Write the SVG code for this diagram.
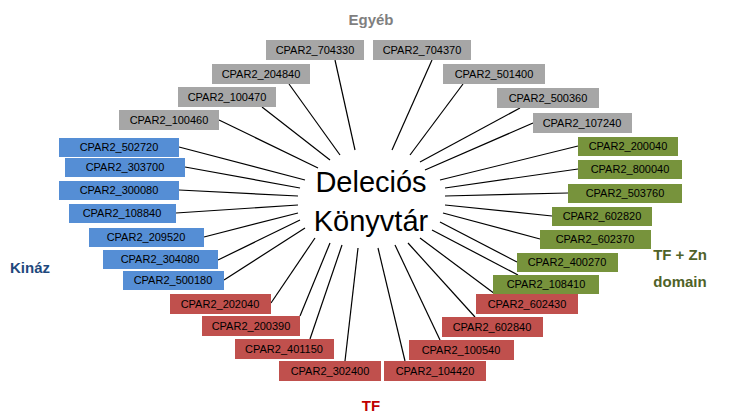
<svg xmlns="http://www.w3.org/2000/svg" width="737" height="420" viewBox="0 0 737 420">
<style>
.b text{font-family:"Liberation Sans",Arial,sans-serif;font-size:11px;fill:#000;text-anchor:middle}
.g rect{fill:#a6a6a6}.bl rect{fill:#558ed5}.gr rect{fill:#77933c}.r rect{fill:#c0504d}
.c line{stroke:#000;stroke-width:1.2}
.t{font-family:"Liberation Sans",Arial,sans-serif;font-weight:bold;font-size:15px;text-anchor:middle}
</style>
<rect width="737" height="420" fill="#fff"/>
<g class="c">
<line x1="335" y1="60" x2="355" y2="150"/><line x1="432" y1="60" x2="392" y2="150"/>
<line x1="289" y1="84" x2="340" y2="155"/><line x1="463" y1="84" x2="410" y2="155"/>
<line x1="262" y1="107" x2="330" y2="160"/><line x1="520" y1="108" x2="420" y2="162"/>
<line x1="219" y1="120" x2="318" y2="168"/><line x1="533" y1="123" x2="425" y2="170"/>
<line x1="179" y1="147" x2="305" y2="180"/><line x1="185" y1="167" x2="300" y2="188"/>
<line x1="179" y1="190" x2="298" y2="196"/><line x1="176" y1="213" x2="298" y2="205"/>
<line x1="204" y1="237" x2="298" y2="213"/><line x1="218" y1="260" x2="300" y2="220"/>
<line x1="224" y1="280" x2="305" y2="228"/>
<line x1="578" y1="146" x2="440" y2="180"/><line x1="578" y1="169" x2="445" y2="188"/>
<line x1="568" y1="193" x2="445" y2="196"/><line x1="552" y1="216" x2="445" y2="205"/>
<line x1="540" y1="239" x2="443" y2="213"/><line x1="517" y1="262" x2="440" y2="222"/>
<line x1="518" y1="275" x2="432" y2="230"/>
<line x1="271" y1="303" x2="315" y2="238"/><line x1="300" y1="316" x2="330" y2="243"/>
<line x1="310" y1="339" x2="342" y2="245"/><line x1="345" y1="361" x2="358" y2="248"/>
<line x1="405" y1="361" x2="378" y2="248"/><line x1="440" y1="340" x2="395" y2="245"/>
<line x1="475" y1="317" x2="408" y2="243"/><line x1="495" y1="294" x2="420" y2="238"/>
</g>
<g class="b g">
<g id="n704330"><rect x="266" y="40" width="98" height="20"/><text x="315" y="54">CPAR2_704330</text></g>
<g id="n704370"><rect x="373" y="40" width="98" height="20"/><text x="422" y="54">CPAR2_704370</text></g>
<g id="n204840"><rect x="212" y="64" width="98" height="20"/><text x="261" y="78">CPAR2_204840</text></g>
<g id="n501400"><rect x="443" y="64" width="102" height="20"/><text x="494" y="78">CPAR2_501400</text></g>
<g id="n100470"><rect x="178" y="87" width="98" height="20"/><text x="227" y="101">CPAR2_100470</text></g>
<g id="n500360"><rect x="497" y="88" width="102" height="20"/><text x="548" y="102">CPAR2_500360</text></g>
<g id="n100460"><rect x="119" y="110" width="100" height="20"/><text x="169" y="124">CPAR2_100460</text></g>
<g id="n107240"><rect x="533" y="113" width="99" height="20"/><text x="582" y="127">CPAR2_107240</text></g>
</g>
<g class="b bl">
<g id="n502720"><rect x="59" y="138" width="120" height="19"/><text x="119" y="151">CPAR2_502720</text></g>
<g id="n303700"><rect x="65" y="158" width="120" height="19"/><text x="125" y="171">CPAR2_303700</text></g>
<g id="n300080"><rect x="59" y="181" width="120" height="19"/><text x="119" y="194">CPAR2_300080</text></g>
<g id="n108840"><rect x="69" y="204" width="107" height="19"/><text x="122" y="217">CPAR2_108840</text></g>
<g id="n209520"><rect x="89" y="228" width="115" height="19"/><text x="146" y="241">CPAR2_209520</text></g>
<g id="n304080"><rect x="103" y="250" width="115" height="19"/><text x="160" y="263">CPAR2_304080</text></g>
<g id="n500180"><rect x="123" y="271" width="101" height="19"/><text x="173" y="284">CPAR2_500180</text></g>
</g>
<g class="b gr">
<g id="n200040"><rect x="578" y="137" width="100" height="19"/><text x="628" y="150">CPAR2_200040</text></g>
<g id="n800040"><rect x="578" y="160" width="104" height="19"/><text x="630" y="173">CPAR2_800040</text></g>
<g id="n503760"><rect x="568" y="184" width="114" height="19"/><text x="625" y="197">CPAR2_503760</text></g>
<g id="n602820"><rect x="552" y="207" width="100" height="19"/><text x="602" y="220">CPAR2_602820</text></g>
<g id="n602370"><rect x="540" y="230" width="111" height="19"/><text x="595" y="243">CPAR2_602370</text></g>
<g id="n400270"><rect x="517" y="253" width="101" height="19"/><text x="567" y="266">CPAR2_400270</text></g>
<g id="n108410"><rect x="493" y="275" width="106" height="19"/><text x="546" y="288">CPAR2_108410</text></g>
</g>
<g class="b r">
<g id="n202040"><rect x="170" y="294" width="101" height="20"/><text x="220" y="308">CPAR2_202040</text></g>
<g id="n602430"><rect x="476" y="294" width="102" height="20"/><text x="527" y="308">CPAR2_602430</text></g>
<g id="n200390"><rect x="202" y="316" width="98" height="20"/><text x="251" y="330">CPAR2_200390</text></g>
<g id="n602840"><rect x="442" y="317" width="101" height="20"/><text x="492" y="331">CPAR2_602840</text></g>
<g id="n401150"><rect x="235" y="339" width="99" height="20"/><text x="284" y="353">CPAR2_401150</text></g>
<g id="n100540"><rect x="409" y="340" width="105" height="20"/><text x="461" y="354">CPAR2_100540</text></g>
<g id="n302400"><rect x="279" y="361" width="102" height="20"/><text x="330" y="375">CPAR2_302400</text></g>
<g id="n104420"><rect x="384" y="361" width="102" height="20"/><text x="435" y="375">CPAR2_104420</text></g>
</g>
<g id="center" font-family="'Liberation Sans',Arial,sans-serif" font-size="29" text-anchor="middle" fill="#000">
<text x="371" y="192">Deleciós</text><text x="371" y="231">Könyvtár</text>
</g>
<text class="t" x="371" y="25" fill="#7f7f7f">Egyéb</text>
<text class="t" x="30" y="273" fill="#1f497d">Kináz</text>
<text class="t" x="680" y="260" fill="#4f6228">TF + Zn</text>
<text class="t" x="680" y="287" fill="#4f6228">domain</text>
<text class="t" x="371" y="411" fill="#c00000">TF</text>
</svg>
